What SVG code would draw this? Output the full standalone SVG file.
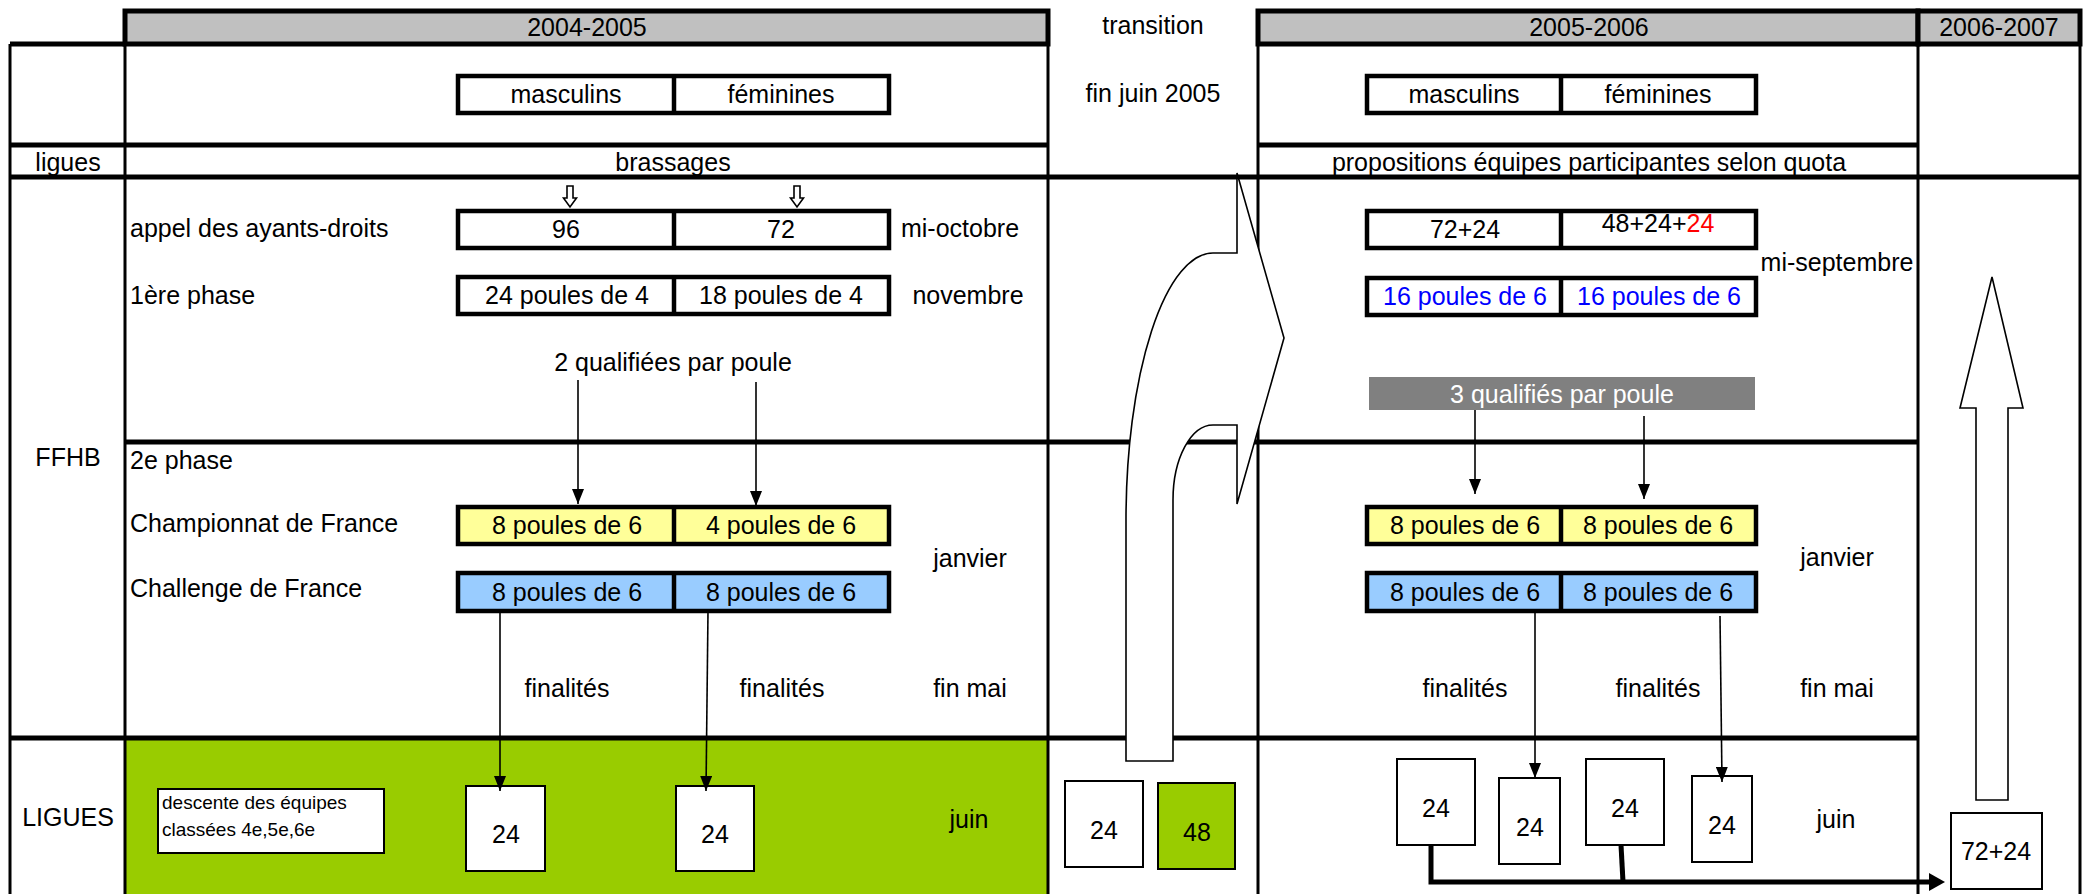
<svg xmlns="http://www.w3.org/2000/svg" width="2087" height="894" viewBox="0 0 2087 894">
<defs>
<style>
text{font-family:"Liberation Sans",Arial,sans-serif;font-size:25px;fill:#000}
.m{text-anchor:middle}
.sm{font-size:19px}
.hl{stroke:#000;stroke-width:5;fill:none}
.vl{stroke:#000;stroke-width:3;fill:none}
.bx{stroke:#000;stroke-width:4.5}
.sb{fill:#fff;stroke:#000;stroke-width:2}
.hdr{fill:#C0C0C0;stroke:#000;stroke-width:5}
.yel{fill:#FFFF99}
.blu{fill:#99CCFF}
.wht{fill:#fff}
.conn{stroke:#000;stroke-width:1.6;fill:none}
.thick{stroke:#000;stroke-width:5;fill:none}
.hollow{fill:#fff;stroke:#000;stroke-width:1.6}
</style>
<marker id="ahd" viewBox="0 0 15 12" refX="15" refY="6" markerWidth="15" markerHeight="12" markerUnits="userSpaceOnUse" orient="auto">
<path d="M0,0 L15,6 L0,12 z" fill="#000"/>
</marker>
<marker id="ahk" viewBox="0 0 16 18" refX="2" refY="9" markerWidth="16" markerHeight="18" markerUnits="userSpaceOnUse" orient="auto">
<path d="M0,0 L16,9 L0,18 z" fill="#000"/>
</marker>
</defs>
<rect width="2087" height="894" fill="#fff"/>

<rect x="125" y="738" width="923" height="160" fill="#99CC00"/>

<g id="headers">
<rect class="hdr" x="125" y="11" width="923" height="33"/>
<rect class="hdr" x="1258" y="11" width="660" height="33"/>
<rect class="hdr" x="1918" y="11" width="162" height="33"/>
<text class="m" x="587" y="36">2004-2005</text>
<text class="m" x="1153" y="34">transition</text>
<text class="m" x="1589" y="36">2005-2006</text>
<text class="m" x="1999" y="36">2006-2007</text>
</g>

<g id="grid">
<line class="vl" x1="10" y1="44" x2="10" y2="894"/>
<line class="vl" x1="125" y1="44" x2="125" y2="894"/>
<line class="vl" x1="1048" y1="44" x2="1048" y2="894"/>
<line class="vl" x1="1258" y1="44" x2="1258" y2="894"/>
<line class="vl" x1="1918" y1="44" x2="1918" y2="894"/>
<line class="vl" x1="2080" y1="44" x2="2080" y2="894"/>
<line class="hl" x1="10" y1="44" x2="125" y2="44"/>
<line class="hl" x1="10" y1="145" x2="1048" y2="145"/>
<line class="hl" x1="1258" y1="145" x2="1918" y2="145"/>
<line class="hl" x1="10" y1="177" x2="2080" y2="177"/>
<line class="hl" x1="125" y1="442" x2="1918" y2="442"/>
<line class="hl" x1="10" y1="738" x2="1918" y2="738"/>
</g>

<g id="labels">
<text class="m" x="68" y="171">ligues</text>
<text class="m" x="673" y="171">brassages</text>
<text class="m" x="1589" y="171">propositions équipes participantes selon quota</text>
<text class="m" x="1153" y="102">fin juin 2005</text>
<text class="m" x="68" y="466">FFHB</text>
<text class="m" x="68" y="826">LIGUES</text>
<text x="130" y="237">appel des ayants-droits</text>
<text x="130" y="304">1ère phase</text>
<text x="130" y="469">2e phase</text>
<text x="130" y="532">Championnat de France</text>
<text x="130" y="597">Challenge de France</text>
<text class="m" x="960" y="237">mi-octobre</text>
<text class="m" x="968" y="304">novembre</text>
<text class="m" x="673" y="371">2 qualifiées par poule</text>
<text class="m" x="970" y="567">janvier</text>
<text class="m" x="567" y="697">finalités</text>
<text class="m" x="782" y="697">finalités</text>
<text class="m" x="970" y="697">fin mai</text>
<text class="m" x="969" y="828">juin</text>
<text class="m" x="1837" y="271">mi-septembre</text>
<text class="m" x="1837" y="566">janvier</text>
<text class="m" x="1465" y="697">finalités</text>
<text class="m" x="1658" y="697">finalités</text>
<text class="m" x="1837" y="697">fin mai</text>
<text class="m" x="1836" y="828">juin</text>
</g>

<g id="n0405-sexe">
<rect class="bx wht" x="458" y="76" width="431" height="37"/>
<line class="bx" x1="674" y1="76" x2="674" y2="113"/>
<text class="m" x="566" y="103">masculins</text>
<text class="m" x="781" y="103">féminines</text>
</g>
<g id="n0405-appel">
<rect class="bx wht" x="458" y="211" width="431" height="37"/>
<line class="bx" x1="674" y1="211" x2="674" y2="248"/>
<text class="m" x="566" y="238">96</text>
<text class="m" x="781" y="238">72</text>
</g>
<g id="n0405-phase1">
<rect class="bx wht" x="458" y="277" width="431" height="37"/>
<line class="bx" x1="674" y1="277" x2="674" y2="314"/>
<text class="m" x="567" y="304">24 poules de 4</text>
<text class="m" x="781" y="304">18 poules de 4</text>
</g>
<g id="n0405-champ">
<rect class="bx yel" x="458" y="507" width="431" height="37"/>
<line class="bx" x1="674" y1="507" x2="674" y2="544"/>
<text class="m" x="567" y="534">8 poules de 6</text>
<text class="m" x="781" y="534">4 poules de 6</text>
</g>
<g id="n0405-chall">
<rect class="bx blu" x="458" y="573" width="431" height="38"/>
<line class="bx" x1="674" y1="573" x2="674" y2="611"/>
<text class="m" x="567" y="601">8 poules de 6</text>
<text class="m" x="781" y="601">8 poules de 6</text>
</g>
<g id="n0405-descente">
<rect class="sb" x="158" y="789" width="226" height="64"/>
<text class="sm" x="162" y="809">descente des équipes</text>
<text class="sm" x="162" y="836">classées 4e,5e,6e</text>
</g>
<g id="n0405-l1">
<rect class="sb" x="466" y="786" width="79" height="85"/>
<text class="m" x="506" y="843">24</text>
</g>
<g id="n0405-l2">
<rect class="sb" x="676" y="786" width="78" height="85"/>
<text class="m" x="715" y="843">24</text>
</g>

<g id="ntr-24">
<rect class="sb" x="1065" y="781" width="78" height="86"/>
<text class="m" x="1104" y="839">24</text>
</g>
<g id="ntr-48">
<rect x="1158" y="783" width="77" height="86" fill="#99CC00" stroke="#000" stroke-width="2"/>
<text class="m" x="1197" y="841">48</text>
</g>

<g id="n0506-sexe">
<rect class="bx wht" x="1367" y="76" width="389" height="37"/>
<line class="bx" x1="1561" y1="76" x2="1561" y2="113"/>
<text class="m" x="1464" y="103">masculins</text>
<text class="m" x="1658" y="103">féminines</text>
</g>
<g id="n0506-appel">
<rect class="bx wht" x="1367" y="211" width="389" height="37"/>
<line class="bx" x1="1561" y1="211" x2="1561" y2="248"/>
<text class="m" x="1465" y="238">72+24</text>
<text class="m" x="1658" y="232">48+24+<tspan style="fill:#FF0000">24</tspan></text>
</g>
<g id="n0506-phase1">
<rect class="bx wht" x="1367" y="278" width="389" height="37"/>
<line class="bx" x1="1561" y1="278" x2="1561" y2="315"/>
<text class="m" x="1465" y="305" style="fill:#0000FF">16 poules de 6</text>
<text class="m" x="1659" y="305" style="fill:#0000FF">16 poules de 6</text>
</g>
<g id="n0506-qual">
<rect x="1369" y="377" width="386" height="33" fill="#808080"/>
<text class="m" x="1562" y="403" style="fill:#fff">3 qualifiés par poule</text>
</g>
<g id="n0506-champ">
<rect class="bx yel" x="1367" y="507" width="389" height="37"/>
<line class="bx" x1="1561" y1="507" x2="1561" y2="544"/>
<text class="m" x="1465" y="534">8 poules de 6</text>
<text class="m" x="1658" y="534">8 poules de 6</text>
</g>
<g id="n0506-chall">
<rect class="bx blu" x="1367" y="573" width="389" height="38"/>
<line class="bx" x1="1561" y1="573" x2="1561" y2="611"/>
<text class="m" x="1465" y="601">8 poules de 6</text>
<text class="m" x="1658" y="601">8 poules de 6</text>
</g>
<g id="n0506-a">
<rect class="sb" x="1397" y="759" width="78" height="86"/>
<text class="m" x="1436" y="817">24</text>
</g>
<g id="n0506-b">
<rect class="sb" x="1499" y="778" width="61" height="86"/>
<text class="m" x="1530" y="836">24</text>
</g>
<g id="n0506-c">
<rect class="sb" x="1586" y="759" width="78" height="86"/>
<text class="m" x="1625" y="817">24</text>
</g>
<g id="n0506-d">
<rect class="sb" x="1692" y="776" width="60" height="86"/>
<text class="m" x="1722" y="834">24</text>
</g>

<g id="n0607">
<rect class="sb" x="1951" y="813" width="91" height="76"/>
<text class="m" x="1996" y="860">72+24</text>
</g>

<g id="connectors">
<path class="hollow" d="M567,186 h6 v12 h3.5 l-6.5,9 l-6.5,-9 h3.5 z"/>
<path class="hollow" d="M794,186 h6 v12 h3.5 l-6.5,9 l-6.5,-9 h3.5 z"/>
<line class="conn" x1="578" y1="380" x2="578" y2="504" marker-end="url(#ahd)"/>
<line class="conn" x1="756" y1="382" x2="756" y2="506" marker-end="url(#ahd)"/>
<line class="conn" x1="500" y1="611" x2="500" y2="791" marker-end="url(#ahd)"/>
<line class="conn" x1="708" y1="611" x2="706" y2="791" marker-end="url(#ahd)"/>
<line class="conn" x1="1475" y1="410" x2="1475" y2="494" marker-end="url(#ahd)"/>
<line class="conn" x1="1644" y1="416" x2="1644" y2="499" marker-end="url(#ahd)"/>
<line class="conn" x1="1535" y1="611" x2="1535" y2="778" marker-end="url(#ahd)"/>
<line class="conn" x1="1720" y1="616" x2="1722" y2="782" marker-end="url(#ahd)"/>
<polyline class="thick" points="1431,845 1431,882 1931,882" marker-end="url(#ahk)"/>
<line class="thick" x1="1621" y1="845" x2="1623" y2="882"/>
<path class="hollow" d="M1237,253 L1213,253 A87,267 0 0 0 1126,520 L1126,761 L1173,761 L1173,500 A40,75 0 0 1 1213,425 L1237,425 L1237,504 L1284,338 L1237,173 Z"/>
<path class="hollow" d="M1992,277 L2023,408 L2008,408 L2008,800 L1976,800 L1976,408 L1960,408 Z"/>
</g>
</svg>
